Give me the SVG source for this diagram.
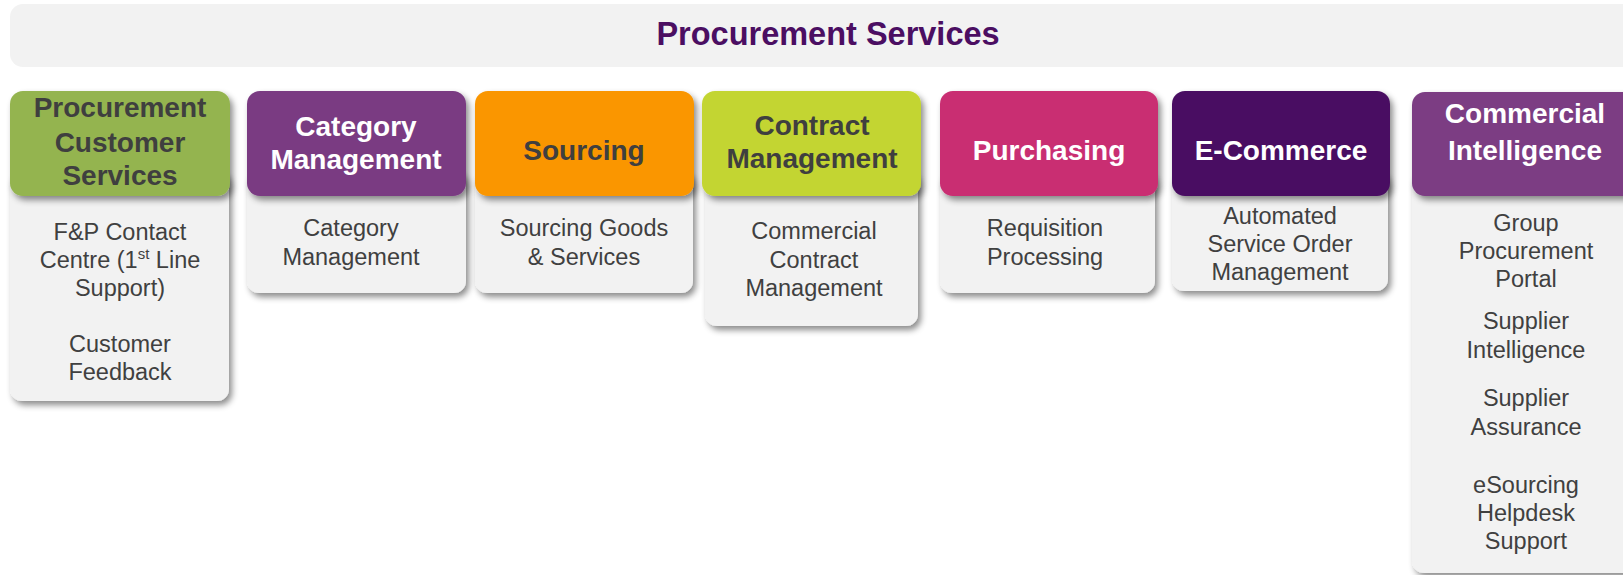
<svg xmlns="http://www.w3.org/2000/svg" width="1623" height="575" viewBox="0 0 1623 575">
<defs>
<filter id="sh" x="-10%" y="-10%" width="130%" height="130%">
<feDropShadow dx="3" dy="4" stdDeviation="3" flood-color="#000" flood-opacity="0.45"/>
</filter>
</defs>
<style>
.body{fill:#F2F2F2;filter:url(#sh)}
.hd{filter:url(#sh)}
.ht{font-family:"Liberation Sans",Arial,sans-serif;font-weight:bold;font-size:28px;text-anchor:middle}
.bt{font-family:"Liberation Sans",Arial,sans-serif;font-size:23.5px;fill:#404040;text-anchor:middle}
.w{fill:#FFFFFF}
.d{fill:#3F3F3F}
</style>
<rect width="1623" height="575" fill="#FFFFFF"/>
<g id="banner">
<rect x="10" y="4" width="1640" height="63" rx="13" fill="#F2F2F2"/>
<text x="828" y="45" font-family="'Liberation Sans',Arial,sans-serif" font-weight="bold" font-size="32.5" fill="#4B0E62" text-anchor="middle">Procurement Services</text>
</g>
<g id="connectors"></g>
<g id="node-pcs">
<rect class="body" x="10" y="170" width="219" height="231" rx="12"/>
<rect class="hd" x="10" y="91" width="220" height="105" rx="13" fill="#94B450"/>
<text class="ht d" x="120" y="117">Procurement</text>
<text class="ht d" x="120" y="152">Customer</text>
<text class="ht d" x="120" y="185">Services</text>
<text class="bt" x="120" y="240">F&amp;P Contact</text>
<text class="bt" x="120" y="268">Centre (1<tspan font-size="15" dy="-9">st</tspan><tspan dy="9"> Line</tspan></text>
<text class="bt" x="120" y="296">Support)</text>
<text class="bt" x="120" y="352">Customer</text>
<text class="bt" x="120" y="380">Feedback</text>
</g>
<g id="node-cat">
<rect class="body" x="247" y="170" width="219" height="123" rx="12"/>
<rect class="hd" x="247" y="91" width="219" height="105" rx="13" fill="#7A3B82"/>
<text class="ht w" x="356" y="136">Category</text>
<text class="ht w" x="356" y="169">Management</text>
<text class="bt" x="351" y="236">Category</text>
<text class="bt" x="351" y="265">Management</text>
</g>
<g id="node-src">
<rect class="body" x="475" y="170" width="218" height="123" rx="12"/>
<rect class="hd" x="475" y="91" width="219" height="105" rx="13" fill="#FA9600"/>
<text class="ht d" x="584" y="160">Sourcing</text>
<text class="bt" x="584" y="236">Sourcing Goods</text>
<text class="bt" x="584" y="265">&amp; Services</text>
</g>
<g id="node-con">
<rect class="body" x="705" y="170" width="213" height="156" rx="12"/>
<rect class="hd" x="702" y="91" width="219" height="105" rx="13" fill="#C3D530"/>
<text class="ht d" x="812" y="135">Contract</text>
<text class="ht d" x="812" y="168">Management</text>
<text class="bt" x="814" y="239">Commercial</text>
<text class="bt" x="814" y="268">Contract</text>
<text class="bt" x="814" y="296">Management</text>
</g>
<g id="node-pur">
<rect class="body" x="940" y="170" width="215" height="123" rx="12"/>
<rect class="hd" x="940" y="91" width="218" height="105" rx="13" fill="#C92D72"/>
<text class="ht w" x="1049" y="160">Purchasing</text>
<text class="bt" x="1045" y="236">Requisition</text>
<text class="bt" x="1045" y="265">Processing</text>
</g>
<g id="node-ecom">
<rect class="body" x="1172" y="170" width="216" height="121" rx="12"/>
<rect class="hd" x="1172" y="91" width="218" height="105" rx="13" fill="#4A0E62"/>
<text class="ht w" x="1281" y="160">E-Commerce</text>
<text class="bt" x="1280" y="224">Automated</text>
<text class="bt" x="1280" y="252">Service Order</text>
<text class="bt" x="1280" y="280">Management</text>
</g>
<g id="node-ci">
<rect class="body" x="1412" y="170" width="240" height="403" rx="12"/>
<rect class="hd" x="1412" y="92" width="240" height="104" rx="13" fill="#7B3D83"/>
<text class="ht w" x="1525" y="123">Commercial</text>
<text class="ht w" x="1525" y="160">Intelligence</text>
<text class="bt" x="1526" y="231">Group</text>
<text class="bt" x="1526" y="259">Procurement</text>
<text class="bt" x="1526" y="287">Portal</text>
<text class="bt" x="1526" y="329">Supplier</text>
<text class="bt" x="1526" y="358">Intelligence</text>
<text class="bt" x="1526" y="406">Supplier</text>
<text class="bt" x="1526" y="435">Assurance</text>
<text class="bt" x="1526" y="493">eSourcing</text>
<text class="bt" x="1526" y="521">Helpdesk</text>
<text class="bt" x="1526" y="549">Support</text>
</g>
</svg>
